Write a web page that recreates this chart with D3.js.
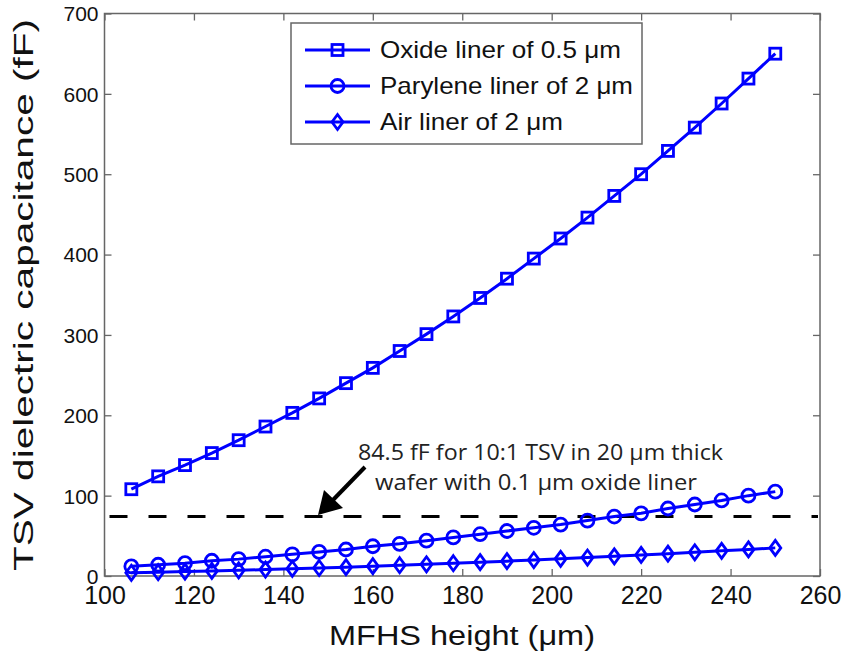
<!DOCTYPE html>
<html><head><meta charset="utf-8">
<script src="https://cdn.jsdelivr.net/npm/d3@7"></script>
<style>body{margin:0;background:#fff}svg{display:block}</style>
</head><body>
<svg id="c" width="846" height="657"></svg>
<script>
const heights = [106,112,118,124,130,136,142,148,154,160,166,172,178,184,190,196,202,208,214,220,226,232,238,244,250];
const oxide = [108,124,138,153,169,186,203,221,240,259,280,301,323,346,370,395,420,446,473,500,529,558,588,619,650];
const parylene = [12,14,16,19,21,24,27,30,33,37,40,44,48,52,56,60,64,69,74,78,84,89,94,100,105];
const air = [4,4.7,5.5,6.3,7.1,8,9,10,11,12.2,13.4,14.6,15.9,17.2,18.5,19.9,21.4,23,24.5,26.2,27.8,29.5,31.3,33.1,35];
const seriesNames = ["Oxide liner of 0.5 \u03BCm","Parylene liner of 2 \u03BCm","Air liner of 2 \u03BCm"];
const markers = ["square","circle","diamond"];
const xTicks = [100,120,140,160,180,200,220,240,260];
const yTicks = [0,100,200,300,400,500,600,700];
const refLine = 74;
const annotation = ["84.5 fF for 10:1 TSV in 20 \u03BCm thick","wafer with 0.1 \u03BCm oxide liner"];

const svg = d3.select("#c");
const L=104.5,R=820,T=13.5,B=576;
const x = d3.scaleLinear().domain([100,260]).range([L,R]);
const y = d3.scaleLinear().domain([0,700]).range([B,T]);
const blue="#0000ff", frame="#666";
const fontA="Liberation Sans, Arial, sans-serif";
const fontB="Open Sans, Lato, sans-serif";

// frame
svg.append("rect").attr("x",L).attr("y",T).attr("width",R-L).attr("height",B-T)
  .attr("fill","none").attr("stroke",frame).attr("stroke-width",1.5);

// axes
const gx = svg.append("g").attr("transform",`translate(0,${B})`)
  .call(d3.axisBottom(x).tickValues(xTicks).tickSize(-7).tickPadding(10));
const gxt = svg.append("g").attr("transform",`translate(0,${T})`)
  .call(d3.axisTop(x).tickValues(xTicks).tickSize(-7).tickFormat(""));
const gy = svg.append("g").attr("transform",`translate(${L},0)`)
  .call(d3.axisLeft(y).tickValues(yTicks).tickSize(-7).tickPadding(6));
const gyr = svg.append("g").attr("transform",`translate(${R},0)`)
  .call(d3.axisRight(y).tickValues(yTicks).tickSize(-7).tickFormat(""));
[gx,gxt,gy,gyr].forEach(g=>{
  g.select(".domain").remove();
  g.selectAll(".tick line").attr("stroke",frame).attr("stroke-width",1.3);
  g.selectAll("text").attr("font-family",fontA).attr("fill","#111");
});
gy.selectAll("text").attr("font-size",21).attr("dy","0.35em");
gx.selectAll("text").attr("font-size",25).attr("dy","0.72em");

// axis titles
svg.append("text").attr("x",462).attr("y",645).attr("text-anchor","middle")
  .attr("font-family",fontA).attr("font-size",27).attr("fill","#111")
  .attr("textLength",266).attr("lengthAdjust","spacingAndGlyphs").text("MFHS height (\u03BCm)");
svg.append("text").attr("transform","translate(33,295) rotate(-90)").attr("text-anchor","middle")
  .attr("font-family",fontA).attr("font-size",27).attr("fill","#111")
  .attr("textLength",552).attr("lengthAdjust","spacingAndGlyphs").text("TSV dielectric capacitance (fF)");

// reference dashed line
svg.append("line").attr("x1",L+5).attr("x2",R-2).attr("y1",y(refLine)).attr("y2",y(refLine))
  .attr("stroke","#000").attr("stroke-width",3).attr("stroke-dasharray","18,21");

// annotation
svg.append("text").attr("x",540.5).attr("y",460).attr("text-anchor","middle")
  .attr("font-family",fontB).attr("font-size",21).attr("fill","#222")
  .attr("textLength",365).attr("lengthAdjust","spacingAndGlyphs").text(annotation[0]);
svg.append("text").attr("x",536).attr("y",490).attr("text-anchor","middle")
  .attr("font-family",fontB).attr("font-size",21).attr("fill","#222")
  .attr("textLength",322).attr("lengthAdjust","spacingAndGlyphs").text(annotation[1]);
// arrow
svg.append("line").attr("x1",365).attr("y1",467).attr("x2",332).attr("y2",501)
  .attr("stroke","#000").attr("stroke-width",4);
svg.append("path").attr("d","M318,515 L324,490 L343,508 Z").attr("fill","#000");

// series
const data = [oxide, parylene, air];
function drawMarker(g, type, cx, cy){
  if(type==="square"){
    g.append("rect").attr("x",cx-5.5).attr("y",cy-5.5).attr("width",11).attr("height",11)
      .attr("fill","none").attr("stroke",blue).attr("stroke-width",2.8);
  } else if(type==="circle"){
    g.append("circle").attr("cx",cx).attr("cy",cy).attr("r",6.5)
      .attr("fill","none").attr("stroke",blue).attr("stroke-width",2.8);
  } else {
    g.append("path").attr("d",`M${cx},${cy-7.5} L${cx+5.5},${cy} L${cx},${cy+7.5} L${cx-5.5},${cy} Z`)
      .attr("fill","none").attr("stroke",blue).attr("stroke-width",2.8);
  }
}
const line = d3.line().x(d=>x(d[0])).y(d=>y(d[1]));
data.forEach((vals,i)=>{
  const pts = heights.map((h,j)=>[h,vals[j]]);
  const g = svg.append("g");
  g.append("path").attr("d",line(pts)).attr("fill","none").attr("stroke",blue).attr("stroke-width",3);
  pts.forEach(p=>drawMarker(g,markers[i],x(p[0]),y(p[1])));
});

// legend
const lg = svg.append("g");
lg.append("rect").attr("x",291).attr("y",23).attr("width",351).attr("height",121)
  .attr("fill","#fff").attr("stroke",frame).attr("stroke-width",1.5);
const legendLens = [241,253,183];
seriesNames.forEach((n,i)=>{
  const yy = 50 + i*36;
  lg.append("line").attr("x1",305).attr("x2",370).attr("y1",yy).attr("y2",yy)
    .attr("stroke",blue).attr("stroke-width",3);
  drawMarker(lg, markers[i], 337.5, yy);
  lg.append("text").attr("x",380).attr("y",yy).attr("dy","0.35em")
    .attr("font-family",fontA).attr("font-size",24).attr("fill","#111")
    .attr("textLength",legendLens[i]).attr("lengthAdjust","spacingAndGlyphs").text(n);
});
</script>
</body></html>
